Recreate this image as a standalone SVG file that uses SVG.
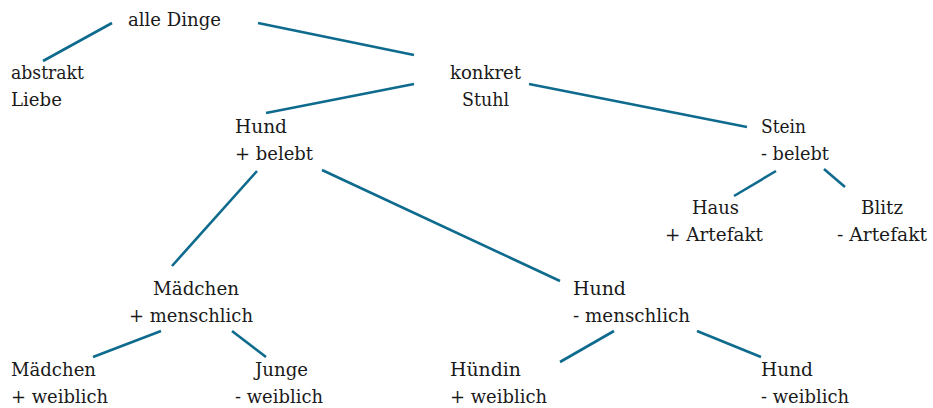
<svg xmlns="http://www.w3.org/2000/svg" width="933" height="408" viewBox="0 0 933 408">
<style>
text{font-family:"DejaVu Serif","Liberation Serif","Times New Roman",Tinos,"Noto Serif",serif;font-size:19px;fill:#1a1a1a}
.e line{stroke:#0e6b8d;stroke-width:2.6;stroke-linecap:butt}
</style>
<rect width="933" height="408" fill="#fff"/>
<g id="connectors" class="e">
<line x1="112" y1="23" x2="43" y2="61"/>
<line x1="258" y1="23" x2="414" y2="55"/>
<line x1="414" y1="84" x2="266" y2="113"/>
<line x1="529" y1="84" x2="747" y2="127"/>
<line x1="776" y1="171" x2="734" y2="196"/>
<line x1="824" y1="169" x2="845" y2="187"/>
<line x1="257" y1="171" x2="172" y2="266"/>
<line x1="322" y1="170" x2="560" y2="281"/>
<line x1="161" y1="331" x2="93" y2="357"/>
<line x1="232" y1="331" x2="266" y2="357"/>
<line x1="614" y1="331" x2="560" y2="362"/>
<line x1="697" y1="331" x2="761" y2="357"/>
</g>
<g id="n-alle"><text x="128" y="26" textLength="93" lengthAdjust="spacingAndGlyphs">alle Dinge</text></g>
<g id="n-abstrakt"><text x="11" y="79" textLength="73" lengthAdjust="spacingAndGlyphs">abstrakt</text><text x="11" y="106" textLength="51" lengthAdjust="spacingAndGlyphs">Liebe</text></g>
<g id="n-konkret"><text x="450" y="79" textLength="71" lengthAdjust="spacingAndGlyphs">konkret</text><text x="462" y="106" textLength="47" lengthAdjust="spacingAndGlyphs">Stuhl</text></g>
<g id="n-hund-belebt"><text x="235" y="133" textLength="52" lengthAdjust="spacingAndGlyphs">Hund</text><text x="235" y="160" textLength="78" lengthAdjust="spacingAndGlyphs">+ belebt</text></g>
<g id="n-stein"><text x="761" y="133" textLength="45" lengthAdjust="spacingAndGlyphs">Stein</text><text x="761" y="160" textLength="68" lengthAdjust="spacingAndGlyphs">- belebt</text></g>
<g id="n-haus"><text x="692" y="214" textLength="47" lengthAdjust="spacingAndGlyphs">Haus</text><text x="665" y="241" textLength="98" lengthAdjust="spacingAndGlyphs">+ Artefakt</text></g>
<g id="n-blitz"><text x="861" y="214" textLength="42" lengthAdjust="spacingAndGlyphs">Blitz</text><text x="837" y="241" textLength="90" lengthAdjust="spacingAndGlyphs">- Artefakt</text></g>
<g id="n-maedchen-menschlich"><text x="153" y="295" textLength="86" lengthAdjust="spacingAndGlyphs">Mädchen</text><text x="129" y="322" textLength="124" lengthAdjust="spacingAndGlyphs">+ menschlich</text></g>
<g id="n-hund-menschlich"><text x="573" y="295" textLength="53" lengthAdjust="spacingAndGlyphs">Hund</text><text x="573" y="322" textLength="117" lengthAdjust="spacingAndGlyphs">- menschlich</text></g>
<g id="n-maedchen-weiblich"><text x="11" y="376" textLength="85" lengthAdjust="spacingAndGlyphs">Mädchen</text><text x="11" y="403" textLength="97" lengthAdjust="spacingAndGlyphs">+ weiblich</text></g>
<g id="n-junge"><text x="255" y="376" textLength="53" lengthAdjust="spacingAndGlyphs">Junge</text><text x="235" y="403" textLength="88" lengthAdjust="spacingAndGlyphs">- weiblich</text></g>
<g id="n-huendin"><text x="450" y="376" textLength="71" lengthAdjust="spacingAndGlyphs">Hündin</text><text x="450" y="403" textLength="97" lengthAdjust="spacingAndGlyphs">+ weiblich</text></g>
<g id="n-hund-weiblich"><text x="761" y="376" textLength="52" lengthAdjust="spacingAndGlyphs">Hund</text><text x="761" y="403" textLength="88" lengthAdjust="spacingAndGlyphs">- weiblich</text></g>
</svg>
